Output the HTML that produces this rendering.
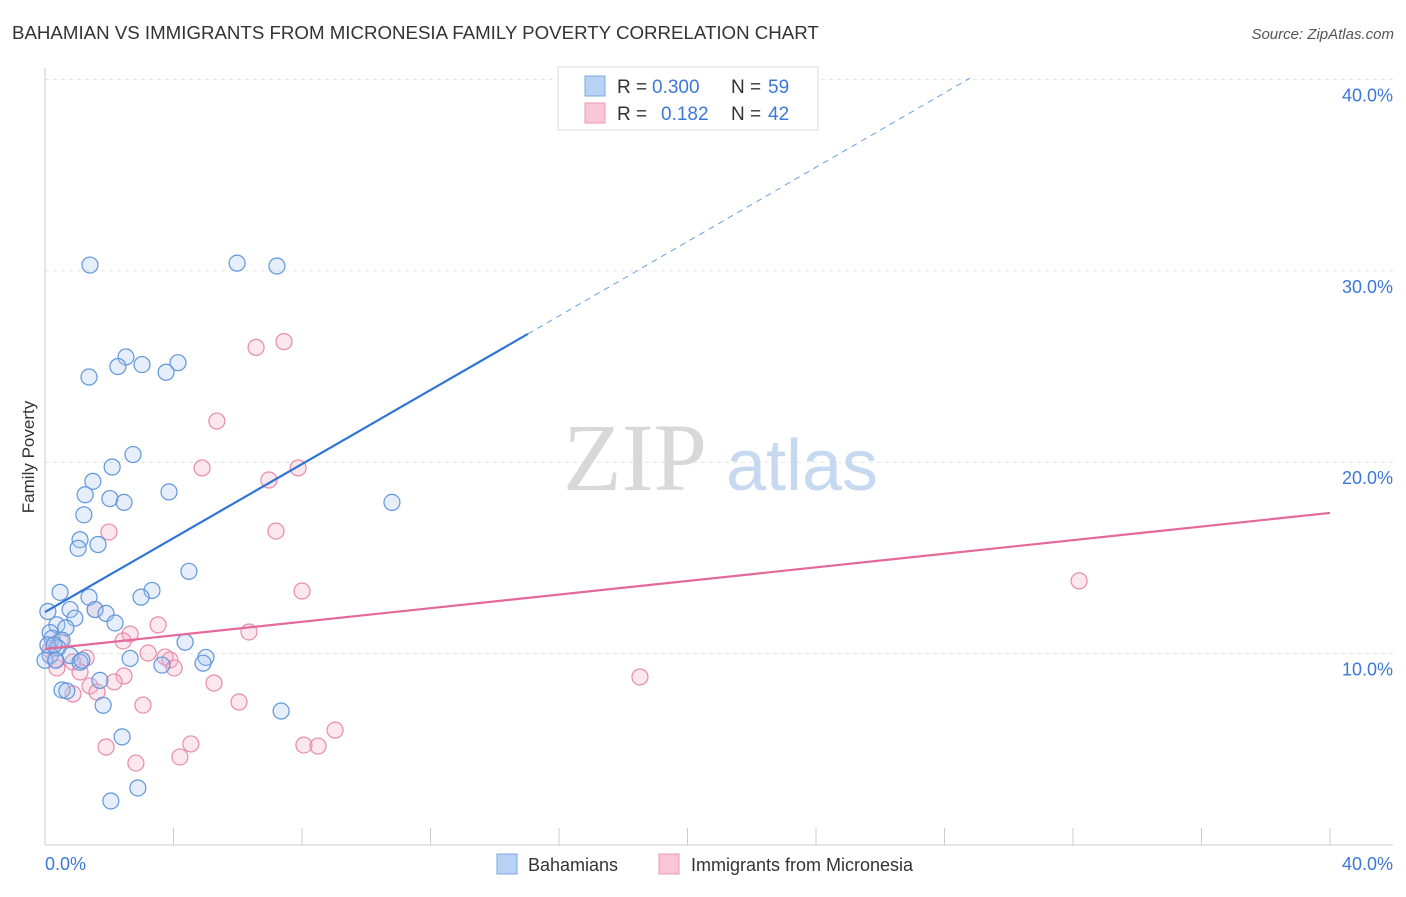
<!DOCTYPE html>
<html><head><meta charset="utf-8"><style>
body{margin:0;background:#fff;font-family:"Liberation Sans",sans-serif}
</style></head><body>
<svg width="1406" height="892" viewBox="0 0 1406 892" xmlns="http://www.w3.org/2000/svg">
<text x="12" y="39" font-size="18.7" fill="#333">BAHAMIAN VS IMMIGRANTS FROM MICRONESIA FAMILY POVERTY CORRELATION CHART</text>
<text x="1394" y="39" font-size="15" fill="#555" text-anchor="end" font-style="italic">Source: ZipAtlas.com</text>
<text x="34" y="457" font-size="17" fill="#333" text-anchor="middle" transform="rotate(-90 34 457)">Family Poverty</text>
<g id="grid"></g>
<g id="axes"></g>
<g>
<text x="635" y="490" font-size="96" fill="#d8d8d8" font-family="Liberation Serif,serif" text-anchor="middle">ZIP</text>
<text x="802" y="490" font-size="72" fill="#c6d9f0" text-anchor="middle">atlas</text>
</g>
<g id="pts"></g>
<g id="lines"></g>
<g>
<rect x="558" y="67" width="260" height="63" fill="#fff" stroke="#ddd"/>
<rect x="585" y="76" width="20" height="20" fill="#b8d2f4" stroke="#7aa8e2"/>
<rect x="585" y="103" width="20" height="20" fill="#f8c6d6" stroke="#ec9ab8"/>
<text x="617" y="93" font-size="19" fill="#333">R =</text>
<text x="652" y="93" font-size="19" fill="#3b78d8">0.300</text>
<text x="731" y="93" font-size="19" fill="#333">N =</text>
<text x="768" y="93" font-size="19" fill="#3b78d8">59</text>
<text x="617" y="120" font-size="19" fill="#333">R =</text>
<text x="661" y="120" font-size="19" fill="#3b78d8">0.182</text>
<text x="731" y="120" font-size="19" fill="#333">N =</text>
<text x="768" y="120" font-size="19" fill="#3b78d8">42</text>
</g>
<g>
<rect x="497" y="854" width="20" height="20" fill="#b8d2f4" stroke="#7aa8e2"/>
<text x="528" y="871" font-size="18" fill="#333">Bahamians</text>
<rect x="659" y="854" width="20" height="20" fill="#f8c6d6" stroke="#ec9ab8"/>
<text x="691" y="871" font-size="18" fill="#333">Immigrants from Micronesia</text>
</g>
</svg>
<script>
const yTicks=[10,20,30,40];
const yTickLabels=["10.0%","20.0%","30.0%","40.0%"];
const xTickLabels=["0.0%","40.0%"];
const blueX=[1.40,5.98,7.22,2.52,2.27,3.02,4.14,3.77,1.37,2.74,2.09,1.49,1.25,2.02,2.46,3.86,10.8,1.21,1.09,1.03,1.65,4.48,0.47,3.33,2.99,1.37,0.78,1.56,1.90,0.93,2.18,0.37,0.65,0.16,0.22,0.53,0.09,4.36,0.40,0.16,0.78,1.09,2.65,5.01,3.64,4.92,1.71,0.53,0.68,1.81,7.35,2.40,2.89,2.05,0.28,0.09,1.15,0.0,0.34];
const blueY=[30.3,30.4,30.25,25.5,25.0,25.1,25.2,24.7,24.45,20.4,19.75,19.0,18.3,18.1,17.9,18.45,17.9,17.25,15.95,15.5,15.7,14.3,13.2,13.3,12.95,12.95,12.3,12.3,12.1,11.85,11.6,11.5,11.35,11.1,10.8,10.7,10.45,10.6,10.3,9.9,9.9,9.55,9.75,9.8,9.4,9.5,8.6,8.1,8.05,7.3,7.0,5.65,2.98,2.3,10.45,12.2,9.65,9.65,9.65];
const pinkX=[7.44,6.57,5.35,4.89,7.88,6.97,1.99,7.19,8.0,32.19,3.52,1.56,6.35,2.65,2.43,0.47,3.21,3.74,3.89,1.28,0.87,0.37,4.02,1.09,2.46,2.15,1.40,5.26,1.62,0.87,18.52,6.04,3.05,4.54,1.90,8.06,8.5,9.03,4.2,2.83,0.16,0.31];
const pinkY=[26.3,26.0,22.15,19.7,19.7,19.07,16.35,16.4,13.27,13.8,11.5,12.3,11.13,11.02,10.66,10.7,10.03,9.82,9.67,9.77,9.56,9.25,9.25,9.04,8.83,8.52,8.31,8.46,7.99,7.89,8.78,7.47,7.31,5.28,5.12,5.22,5.17,6.0,4.6,4.28,10.19,9.67];
const blueLine=[0,12.17,15.03,26.7,28.8,40.07];
const pinkLine=[0,10.24,40,17.35];
const NS="http://www.w3.org/2000/svg";
const sx=v=>45+v*32.125, sy=v=>845-v*19.14;
function mk(tag,attrs,parent){const e=document.createElementNS(NS,tag);for(const k in attrs)e.setAttribute(k,attrs[k]);parent.appendChild(e);return e;}
const grid=document.getElementById('grid'),axes=document.getElementById('axes'),pts=document.getElementById('pts'),lines=document.getElementById('lines');
yTicks.forEach((t,i)=>{
 const l=mk('line',{x1:45,x2:1393,y1:sy(t),y2:sy(t),stroke:'#e2e2e2','stroke-dasharray':'4,4'},grid);
 
 
 const tx=mk('text',{x:1393,y:sy(t)+22,'font-size':18,fill:'#3b78d8','text-anchor':'end'},axes);
 tx.textContent=yTickLabels[i];
 
 
});
mk('line',{x1:45,x2:45,y1:68,y2:845,stroke:'#ccc'},axes);
mk('line',{x1:45,x2:1393,y1:845,y2:845,stroke:'#ccc'},axes);
for(let i=0;i<=10;i++){const t=mk('line',{x1:sx(i*4),x2:sx(i*4),y1:828,y2:845,stroke:'#ccc'},axes);
 
 }
[[45,'start',0],[1393,'end',1]].forEach(([x,a,i])=>{const t=mk('text',{x:x,y:870,'font-size':18,fill:'#3b78d8','text-anchor':a},axes);t.textContent=xTickLabels[i];
 
 });
function dots(X,Y,fill,stroke,name){X.forEach((x,i)=>{const c=mk('circle',{cx:sx(x),cy:sy(Y[i]),r:8,fill:fill,'fill-opacity':0.3,stroke:stroke,'stroke-width':1.2},pts);
 
 });}
dots(pinkX,pinkY,'#f5b0c8','#e88aac','point-micronesia');
dots(blueX,blueY,'#a8c8f0','#5f96dc','point-bahamian');
let l1=mk('line',{x1:sx(blueLine[0]),y1:sy(blueLine[1]),x2:sx(blueLine[2]),y2:sy(blueLine[3]),stroke:'#2f74d6','stroke-width':2.2},lines);


let l2=mk('line',{x1:sx(blueLine[2]),y1:sy(blueLine[3]),x2:sx(blueLine[4]),y2:sy(blueLine[5]),stroke:'#6a9fe0','stroke-width':1,'stroke-dasharray':'6,5'},lines);


let l3=mk('line',{x1:sx(pinkLine[0]),y1:sy(pinkLine[1]),x2:sx(pinkLine[2]),y2:sy(pinkLine[3]),stroke:'#e4689a','stroke-width':2.2},lines);


</script>
</body></html>
